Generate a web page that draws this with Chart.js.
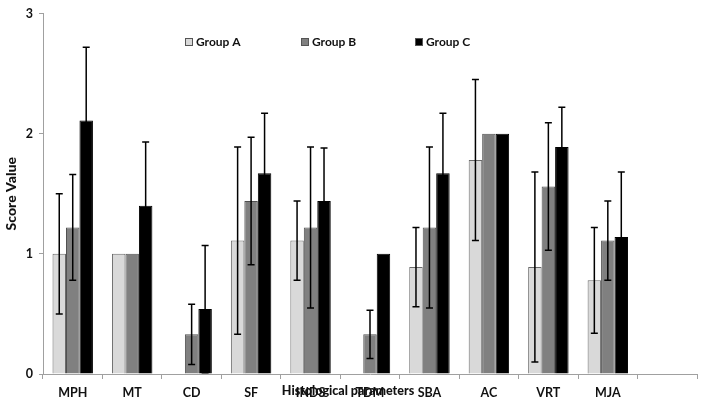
<!DOCTYPE html>
<html>
<head>
<meta charset="utf-8">
<script src="https://cdn.jsdelivr.net/npm/chart.js@4"></script>
<style>
    body { margin: 0; background: #fff; }
    #wrap { width: 701px; height: 401px; }
</style>
</head>
<body>
<div id="wrap"><canvas id="chart"></canvas></div>
<script>
const categories = ["MPH", "MT", "CD", "SF", "INDS", "TDM", "SBA", "AC", "VRT", "MJA", ""];
const groupNames = ["Group A", "Group B", "Group C"];

const groupA = [1.0, 1.0, 0, 1.11, 1.11, 0, 0.89, 1.78, 0.89, 0.78, null];
const groupB = [1.22, 1.0, 0.33, 1.44, 1.22, 0.33, 1.22, 2.0, 1.56, 1.11, null];
const groupC = [2.11, 1.4, 0.54, 1.67, 1.44, 1.0, 1.67, 2.0, 1.89, 1.14, null];

const errA = [0.5, 0, 0, 0.78, 0.33, 0, 0.33, 0.67, 0.79, 0.44, 0];
const errB = [0.44, 0, 0.25, 0.53, 0.67, 0.2, 0.67, 0, 0.53, 0.33, 0];
const errC = [0.61, 0.53, 0.53, 0.5, 0.44, 0, 0.5, 0, 0.33, 0.54, 0];

const yTicks = [0, 1, 2, 3];

const fontFamily = "Lato, 'Open Sans', sans-serif";

// error bars drawn over the bars with the y scale
const errorBars = {
    id: "errorBars",
    afterDatasetsDraw(chart) {
        const ctx = chart.ctx;
        const y = chart.scales.y;
        chart.data.datasets.forEach((ds, i) => {
            const meta = chart.getDatasetMeta(i);
            meta.data.forEach((bar, j) => {
                const v = ds.data[j];
                const e = ds.errors[j];
                if (v == null || !e) return;
                const top = y.getPixelForValue(v + e);
                const bot = y.getPixelForValue(Math.max(v - e, 0));
                ctx.save();
                ctx.strokeStyle = "#000";
                ctx.lineWidth = 1.5;
                ctx.beginPath();
                ctx.moveTo(bar.x, top);
                ctx.lineTo(bar.x, bot);
                ctx.moveTo(bar.x - 3.5, top);
                ctx.lineTo(bar.x + 3.5, top);
                ctx.moveTo(bar.x - 3.5, bot);
                ctx.lineTo(bar.x + 3.5, bot);
                ctx.stroke();
                ctx.restore();
            });
        });
    }
};

// legend inside the plot and the x title that sits over the labels
const extras = {
    id: "extras",
    afterDraw(chart) {
        const ctx = chart.ctx;
        ctx.save();
        ctx.font = "bold 12px " + fontFamily;
        ctx.textBaseline = "middle";
        const legendX = [185, 301, 415];
        chart.data.datasets.forEach((ds, i) => {
            ctx.fillStyle = ds.backgroundColor;
            ctx.strokeStyle = "#555";
            ctx.lineWidth = 1;
            ctx.fillRect(legendX[i], 38, 8, 8);
            ctx.strokeRect(legendX[i] + 0.5, 38.5, 7, 7);
            ctx.fillStyle = "#111";
            ctx.fillText(ds.label, legendX[i] + 11, 42);
        });
        ctx.textAlign = "center";
        ctx.font = "900 12.5px " + fontFamily;
        ctx.fillText("Histological parameters", 348, 391);
        ctx.restore();
    }
};

new Chart(document.getElementById("chart"), {
    type: "bar",
    data: {
        labels: categories,
        datasets: [
            { label: groupNames[0], data: groupA, errors: errA, backgroundColor: "#d9d9d9", borderColor: "#6a6a6a", borderWidth: 1 },
            { label: groupNames[1], data: groupB, errors: errB, backgroundColor: "#808080", borderColor: "#505050", borderWidth: 1 },
            { label: groupNames[2], data: groupC, errors: errC, backgroundColor: "#000000", borderColor: "#000000", borderWidth: 1 }
        ]
    },
    options: {
        responsive: true,
        maintainAspectRatio: false,
        animation: false,
        layout: { padding: { top: 8, right: 4, left: 0, bottom: 0 } },
        datasets: { bar: { categoryPercentage: 0.68, barPercentage: 1 } },
        plugins: {
            legend: { display: false },
            tooltip: { enabled: false }
        },
        scales: {
            x: {
                afterFit: scale => { scale.height = 27; },
                grid: { display: true, drawOnChartArea: false, drawTicks: true, tickLength: 5, color: "#a0a0a0", offset: true },
                border: { color: "#a0a0a0" },
                ticks: { color: "#111", padding: 6, font: { family: fontFamily, size: 12.5, weight: "bold" }, maxRotation: 0, autoSkip: false }
            },
            y: {
                min: 0,
                max: 3,
                afterFit: scale => { scale.width = 43; },
                afterBuildTicks: scale => { scale.ticks = yTicks.map(v => ({ value: v })); },
                grid: { display: true, drawOnChartArea: false, drawTicks: true, tickLength: 4, color: "#a0a0a0" },
                border: { color: "#a0a0a0" },
                ticks: { color: "#111", padding: 6, font: { family: fontFamily, size: 12.5, weight: "bold" } },
                title: { display: true, text: "Score Value", color: "#111", padding: { top: 3, bottom: 0 }, font: { family: fontFamily, size: 14, weight: "900" } }
            }
        }
    },
    plugins: [errorBars, extras]
});
</script>
</body>
</html>
